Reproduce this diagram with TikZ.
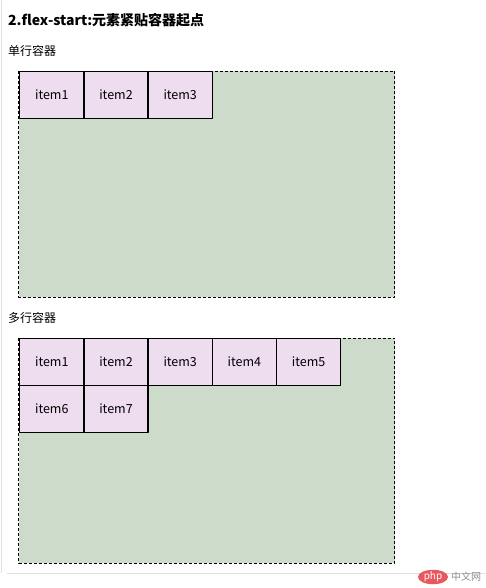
\documentclass[tikz,border=0pt]{standalone}
\usepackage{fontspec}
\usetikzlibrary{shapes.geometric}
\setmainfont{Noto Sans CJK SC}
\definecolor{boxgreen}{HTML}{CDDCCA}
\definecolor{itempink}{HTML}{EEDDEE}
\definecolor{phpred}{HTML}{E8585F}
\tikzset{
  flexbox/.style={draw=black, fill=boxgreen, line width=0.9pt, dash pattern=on 3pt off 2pt},
  flexitem/.style={draw=black, fill=itempink, line width=1.4pt, anchor=north west,
    minimum width=64.2pt, minimum height=47pt, inner sep=0pt, font=\fontsize{12.5}{14}\selectfont},
  caption/.style={anchor=west, inner sep=0pt, font=\fontsize{12}{14}\selectfont}
}
\begin{document}
\begin{tikzpicture}[x=1pt, y=-1pt, line join=round]
    \useasboundingbox (0,0) rectangle (485,588);
    \def\w{64.2} \def\h{47} % item size
    % ============= page frame
    \draw[black!12, line width=0.8pt] (1,0) -- (1,573);
    \draw[black!12, line width=0.8pt] (7,573) -- (485,573);
    % ============= titles
    \node[anchor=west, inner sep=0pt, font=\fontsize{14}{16}\selectfont\bfseries] (title) at (8,20) {2.flex-start:元素紧贴容器起点};
    \node[caption] (lab1) at (8,51) {单行容器};
    \node[caption] (lab2) at (8,318) {多行容器};
    % ============= single line container
    \draw[flexbox] (18.5,71) rectangle (394.5,297);
    \foreach \i in {1,...,3} {
      \node[flexitem] (s\i) at ({19+\w*(\i-1)},71) {item\i};
    }
    % ============= multi line container
    \draw[flexbox] (18.5,338) rectangle (394.5,563);
    \foreach \i in {1,...,5} {
      \node[flexitem] (m\i) at ({19+\w*(\i-1)},338) {item\i};
    }
    \foreach \i/\j in {6/0,7/1} {
      \node[flexitem] (m\i) at ({19+\w*\j},385) {item\i};
    }
    % ============= watermark
    \node[fill=phpred, ellipse, inner sep=0pt, minimum width=30pt, minimum height=12pt, text=white,
      font=\fontsize{10}{10}\selectfont\itshape] (php) at (433,577) {php};
    \node[anchor=west, inner sep=0pt, text=black!45, font=\fontsize{10}{10}\selectfont] (zw) at (451,577) {中文网};
\end{tikzpicture}
\end{document}
